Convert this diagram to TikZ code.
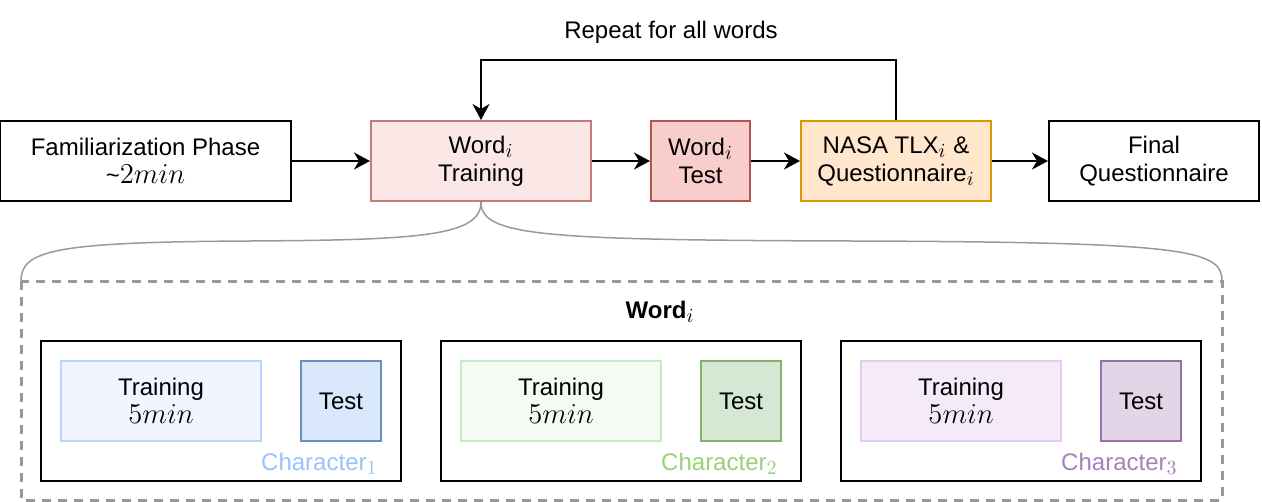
\documentclass[tikz,border=0pt]{standalone}
\usepackage[no-math]{fontspec}
\setmainfont{Liberation Sans}
\usepackage{xcolor}
\usetikzlibrary{arrows.meta,positioning,calc}

\definecolor{wtrainfill}{HTML}{FAE7E6}
\definecolor{wtrainline}{HTML}{C47C78}
\definecolor{wtestfill}{HTML}{F8CECC}
\definecolor{wtestline}{HTML}{B85450}
\definecolor{nasafill}{HTML}{FFE6CC}
\definecolor{nasaline}{HTML}{D79B00}
\definecolor{bracegray}{HTML}{999999}
% character colours: training fill, training line, test fill, test line, label
\definecolor{bluetf}{HTML}{F0F5FF}
\definecolor{bluetl}{HTML}{B9D3FF}
\definecolor{bluesf}{HTML}{DAE8FC}
\definecolor{bluesl}{HTML}{6C8EBF}
\definecolor{bluelab}{HTML}{99C2FF}
\definecolor{greentf}{HTML}{F3FBF2}
\definecolor{greentl}{HTML}{C4EBC2}
\definecolor{greensf}{HTML}{D5E8D4}
\definecolor{greensl}{HTML}{82B366}
\definecolor{greenlab}{HTML}{97D077}
\definecolor{purpletf}{HTML}{F5EBF8}
\definecolor{purpletl}{HTML}{E5CCEF}
\definecolor{purplesf}{HTML}{E1D5E7}
\definecolor{purplesl}{HTML}{9673A6}
\definecolor{purplelab}{HTML}{A680B8}

% math is set a bit larger than the text
\newcommand{\mth}[1]{{\fontsize{14.5}{14}\selectfont$#1$}}

\begin{document}
\begin{tikzpicture}[x=0.5pt,y=-0.5pt,font=\fontsize{12}{14}\selectfont,
    box/.style={draw,line width=1pt,inner sep=0pt,align=center,minimum height=40pt},
    arr/.style={line width=1pt,-{Stealth[length=8pt,width=8.5pt,inset=2.5pt]}}]
    \useasboundingbox (0,0) rectangle (1262,502);

    % top row
    \node[box,minimum width=145.5pt] (famil) at (145.5,161) {Familiarization Phase\\\textasciitilde\mth{2min}};
    \node[box,minimum width=110pt,fill=wtrainfill,draw=wtrainline] (wtrain) at (481,161) {Word\mth{_i}\\Training};
    \node[box,minimum width=49.5pt,fill=wtestfill,draw=wtestline] (wtest) at (700.5,161) {Word\mth{_i}\\Test};
    \node[box,minimum width=95pt,fill=nasafill,draw=nasaline] (nasa) at (896,161) {NASA TLX\mth{_i} \&\\Questionnaire\mth{_i}};
    \node[box,minimum width=105pt] (final) at (1154,161) {Final\\Questionnaire};

    \draw[arr] (famil) -- (wtrain);
    \draw[arr] (wtrain) -- (wtest);
    \draw[arr] (wtest) -- (nasa);
    \draw[arr] (nasa) -- (final);

    % repeat loop
    \draw[arr] (nasa.north) -- ++(0,-60) -| (wtrain.north);
    \node (repeat) at (671,32) {Repeat for all words};

    % curly brace down to the word box
    \draw[bracegray,line width=0.75pt] (wtrain.south) .. controls (481,236) and (421,240) .. (250,241)
        .. controls (55,242) and (21,250) .. (21,281);
    \draw[bracegray,line width=0.75pt] (wtrain.south) .. controls (481,236) and (541,240) .. (850,241)
        .. controls (1188,242) and (1222,250) .. (1222,281);

    % word box
    \draw[bracegray,line width=1.5pt,dash pattern=on 4.5pt off 3.5pt] (21,281) rectangle (1222,500);
    \node (wordlab) at (660,312) {\textbf{Word}\mth{_i}};

    % one block per character
    \foreach \k/\x/\c in {1/221/blue,2/621/green,3/1021/purple} {
        \node[box,minimum width=180pt,minimum height=70pt] (char\k) at (\x,411) {};
        \node[box,minimum width=100pt,fill=\c tf,draw=\c tl] (ctrain\k) at (\x-60,401) {Training\\\mth{5min}};
        \node[box,minimum width=40pt,fill=\c sf,draw=\c sl] (ctest\k) at (\x+120,401) {Test};
        \node[anchor=base east,text=\c lab,inner sep=0pt] (clab\k) at (\x+157,470) {Character\mth{_\k}};
    }
\end{tikzpicture}
\end{document}
